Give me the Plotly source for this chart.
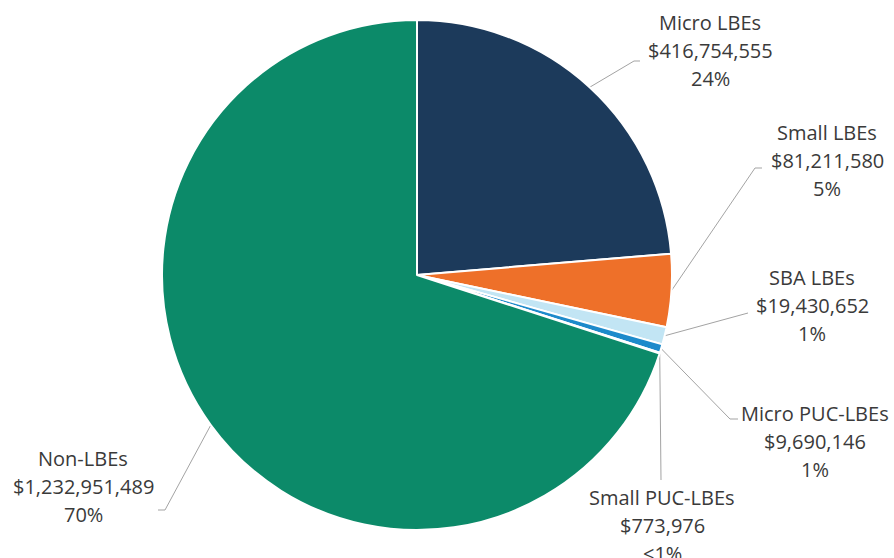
import math
import plotly.graph_objects as go

# Spending by business category
categories = ["Micro LBEs", "Small LBEs", "SBA LBEs", "Micro PUC-LBEs",
              "Small PUC-LBEs", "Non-LBEs"]
amounts = [416754555, 81211580, 19430652, 9690146, 773976, 1232951489]
colors = ["#1c3a5b", "#ee7029", "#c2e5f4", "#1d8acb", "#136ea3", "#0c8a69"]

W, H = 894, 558
CX, CY, R = 417, 275, 255  # pie centre and radius in page pixels

# label block centres (middle line) and leader-line elbows, in page pixels
label_pos = [(710, 50), (827, 160), (812, 305), (815, 441), (662, 525), (83, 486)]
leader_path = [
    [(634, 61), (640, 61)],
    [(755, 168), (762, 168)],
    [(748, 313)],
    [(730, 419), (738, 419)],
    [(661, 480)],
    [(165, 510), (158, 510)],
]
LINE_GAP = 28

total = sum(amounts)


def pct_text(v):
    p = 100 * v / total
    return "<1%" if p < 0.5 else f"{round(p):d}%"


fig = go.Figure()
fig.add_trace(go.Pie(
    labels=categories, values=amounts, sort=False, direction="clockwise",
    rotation=0, marker=dict(colors=colors, line=dict(color="white", width=2)),
    textinfo="none", hoverinfo="label+value+percent", showlegend=False,
    domain=dict(x=[(CX - R) / W, (CX + R) / W],
                y=[(H - CY - R) / H, (H - CY + R) / H]),
))

# leader lines start at each slice's mid-angle on the rim
cum = 0.0
for i, v in enumerate(amounts):
    mid = (cum + v / 2) / total * 2 * math.pi
    cum += v
    sx = CX + R * math.sin(mid)
    sy = CY - R * math.cos(mid)
    pts = [(sx, sy)] + leader_path[i]
    fig.add_trace(go.Scatter(
        x=[p[0] for p in pts], y=[p[1] for p in pts], mode="lines",
        line=dict(color="#a3a3a3", width=1), hoverinfo="skip",
        showlegend=False))

    lx, ly = label_pos[i]
    lines = [categories[i], f"${v:,}", pct_text(v)]
    for k, t in enumerate(lines):
        fig.add_annotation(x=lx, y=ly + (k - 1) * LINE_GAP, text=t,
                           showarrow=False, xanchor="center", yanchor="middle",
                           font=dict(family="Open Sans", size=20,
                                     color="#3a3a3a"))

fig.update_layout(
    width=W, height=H, margin=dict(l=0, r=0, t=0, b=0),
    paper_bgcolor="white", plot_bgcolor="rgba(0,0,0,0)",
    xaxis=dict(range=[0, W], visible=False, fixedrange=True),
    yaxis=dict(range=[H, 0], visible=False, fixedrange=True),
)

fig.write_html("out.html")
